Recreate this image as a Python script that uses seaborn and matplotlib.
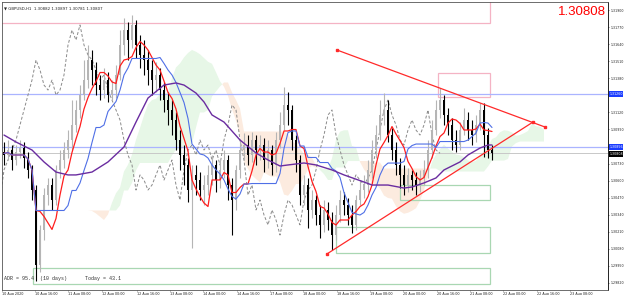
import numpy as np
import pandas as pd
import matplotlib
matplotlib.use("Agg")
import matplotlib.pyplot as plt
import matplotlib.transforms as mtransforms
from matplotlib.patches import Rectangle
import seaborn as sns

# ---------------- data (GBPUSD H1) ----------------
first_open = 1.30818
closes = [1.30795, 1.30833, 1.30757, 1.30818, 1.30848, 1.30772, 1.30681, 1.30528, 1.29957, 1.30223,
          1.30490, 1.30566, 1.30452, 1.30681, 1.30757, 1.30833, 1.30909, 1.31024, 1.31138, 1.31252,
          1.31366, 1.31519, 1.31443, 1.31328, 1.31290, 1.31366, 1.31252, 1.31290, 1.31405, 1.31633,
          1.31747, 1.31671, 1.31786, 1.31633, 1.31557, 1.31519, 1.31443, 1.31366, 1.31405, 1.31290,
          1.31214, 1.31138, 1.31062, 1.30909, 1.30795, 1.30719, 1.30528, 1.30643, 1.30604, 1.30528,
          1.30566, 1.30643, 1.30719, 1.30604, 1.30681, 1.30757, 1.30566, 1.30452, 1.30681, 1.30833,
          1.30871, 1.30795, 1.30909, 1.30833, 1.30871, 1.30757, 1.30833, 1.30719, 1.30909, 1.31024,
          1.31176, 1.31138, 1.30909, 1.30757, 1.30490, 1.30566, 1.30376, 1.30452, 1.30338, 1.30262,
          1.30376, 1.30300, 1.30185, 1.30338, 1.30452, 1.30414, 1.30338, 1.30262, 1.30452, 1.30528,
          1.30566, 1.30681, 1.30833, 1.30947, 1.31100, 1.31138, 1.30947, 1.30833, 1.30719, 1.30643,
          1.30566, 1.30643, 1.30604, 1.30566, 1.30620, 1.30681, 1.30833, 1.30985, 1.31138, 1.31214,
          1.31100, 1.31024, 1.30909, 1.30871, 1.30985, 1.31062, 1.30985, 1.30947, 1.31024, 1.31138,
          1.30947, 1.30833, 1.30808]
highs = [1.30894, 1.30909, 1.30871, 1.30871, 1.30909, 1.30894, 1.30818, 1.30719, 1.30566, 1.30262,
         1.30543, 1.30620, 1.30620, 1.30719, 1.30833, 1.30894, 1.30985, 1.31214, 1.31214, 1.31328,
         1.31519, 1.31633, 1.31595, 1.31504, 1.31405, 1.31458, 1.31427, 1.31366, 1.31481, 1.31747,
         1.31839, 1.31808, 1.31862, 1.31824, 1.31709, 1.31671, 1.31595, 1.31519, 1.31504, 1.31458,
         1.31351, 1.31275, 1.31214, 1.31123, 1.30985, 1.30871, 1.30772, 1.30719, 1.30719, 1.30665,
         1.30643, 1.30719, 1.30795, 1.30757, 1.30757, 1.30833, 1.30795, 1.30620, 1.30719, 1.30909,
         1.30963, 1.30947, 1.30970, 1.30947, 1.30947, 1.30924, 1.30909, 1.30871, 1.30970, 1.31123,
         1.31313, 1.31275, 1.31176, 1.30947, 1.30795, 1.30643, 1.30620, 1.30528, 1.30490, 1.30414,
         1.30452, 1.30437, 1.30361, 1.30414, 1.30528, 1.30513, 1.30467, 1.30414, 1.30490, 1.30604,
         1.30643, 1.30757, 1.30909, 1.31024, 1.31214, 1.31267, 1.31214, 1.31001, 1.30894, 1.30772,
         1.30719, 1.30696, 1.30681, 1.30665, 1.30681, 1.30757, 1.30909, 1.31062, 1.31214, 1.31305,
         1.31252, 1.31153, 1.31077, 1.30985, 1.31046, 1.31153, 1.31123, 1.31062, 1.31100, 1.31191,
         1.31191, 1.31001, 1.30871]
lows = [1.30719, 1.30757, 1.30681, 1.30719, 1.30772, 1.30696, 1.30620, 1.30452, 1.29835, 1.29903,
        1.30147, 1.30414, 1.30376, 1.30414, 1.30620, 1.30696, 1.30772, 1.30833, 1.30970, 1.31077,
        1.31214, 1.31305, 1.31328, 1.31252, 1.31214, 1.31229, 1.31199, 1.31214, 1.31229, 1.31366,
        1.31557, 1.31519, 1.31610, 1.31534, 1.31458, 1.31405, 1.31328, 1.31252, 1.31275, 1.31214,
        1.31123, 1.31024, 1.30947, 1.30833, 1.30681, 1.30566, 1.30437, 1.30086, 1.30490, 1.30452,
        1.30414, 1.30490, 1.30566, 1.30513, 1.30543, 1.30620, 1.30452, 1.30185, 1.30376, 1.30620,
        1.30757, 1.30719, 1.30742, 1.30719, 1.30757, 1.30665, 1.30696, 1.30643, 1.30665, 1.30848,
        1.30985, 1.31024, 1.30833, 1.30665, 1.30414, 1.30414, 1.30239, 1.30315, 1.30262, 1.30162,
        1.30208, 1.30223, 1.30071, 1.30147, 1.30284, 1.30338, 1.30262, 1.30200, 1.30223, 1.30414,
        1.30467, 1.30513, 1.30620, 1.30772, 1.30909, 1.31024, 1.30894, 1.30757, 1.30643, 1.30543,
        1.30490, 1.30513, 1.30528, 1.30490, 1.30513, 1.30566, 1.30620, 1.30772, 1.30947, 1.31077,
        1.31024, 1.30947, 1.30833, 1.30818, 1.30833, 1.30947, 1.30909, 1.30871, 1.30894, 1.30985,
        1.30780, 1.30772, 1.30757]

# long moving average (purple), read as (bar, price) points
ma_bars = [0, 3, 7, 10, 13, 16, 18, 22, 26, 30, 33, 36, 40, 43, 45, 48, 50, 52, 55, 59, 63, 66, 69,
           71, 75, 78, 82, 85, 90, 92, 96, 100, 102, 105, 108, 110, 114, 116, 119, 121, 122]
ma_vals = [1.30947, 1.30894, 1.30833, 1.30742, 1.30665, 1.30643, 1.30643, 1.30665, 1.30742, 1.30856,
           1.31046, 1.31229, 1.31328, 1.31344, 1.31328, 1.31267, 1.31199, 1.31100, 1.31046, 1.30909,
           1.30810, 1.30757, 1.30711, 1.30719, 1.30734, 1.30719, 1.30681, 1.30643, 1.30589, 1.30566,
           1.30566, 1.30543, 1.30551, 1.30582, 1.30620, 1.30681, 1.30742, 1.30795, 1.30848, 1.30871,
           1.30871]

# horizontal levels
level_blue = [1.31260, 1.30856]
bid_price = 1.30808

# drawings: trend lines and zones (bar, price)
trend_upper = [(83.25, 1.31595), (135.25, 1.31008)]
trend_lower = [(80.75, 1.30041), (132.25, 1.31046)]
zones_pink = [(-5, 121.5, 1.31801, 1.32100), (108.5, 121.5, 1.31237, 1.31420)]
zones_green = [(99.0, 121.5, 1.30452, 1.30566), (83.0, 121.5, 1.30048, 1.30246),
               (7.25, 121.5, 1.29812, 1.29934)]

yticks = [1.31900, 1.31770, 1.31640, 1.31510, 1.31380, 1.31250, 1.31120, 1.30990, 1.30860,
          1.30730, 1.30600, 1.30470, 1.30340, 1.30210, 1.30080, 1.29950, 1.29820]
hidden_yticks = [1.31250, 1.30860]   # covered by the price boxes
xtick_bars = [-0.5, 7.75, 16.0, 24.5, 33.25, 41.5, 49.75, 58.25, 66.5, 74.75, 83.25, 91.5,
              99.75, 108.25, 116.5, 124.75, 133.25, 141.5]
xtick_labels = ["10 Aug 2020", "10 Aug 16:00", "11 Aug 08:00", "12 Aug 00:00", "12 Aug 16:00",
                "13 Aug 08:00", "14 Aug 00:00", "14 Aug 16:00", "17 Aug 08:00", "18 Aug 00:00",
                "18 Aug 16:00", "19 Aug 08:00", "20 Aug 00:00", "20 Aug 16:00", "21 Aug 08:00",
                "22 Aug 00:00", "22 Aug 16:00", "23 Aug 08:00"]

# ---------------- build frame ----------------
n = len(closes)
bars = np.arange(n)
opens = [first_open] + closes[:-1]
df = pd.DataFrame({"bar": bars, "open": opens, "high": highs, "low": lows, "close": closes})

tenkan = (df["high"].rolling(5, min_periods=1).max() + df["low"].rolling(5, min_periods=1).min()) / 2
kijun = (df["high"].rolling(13, min_periods=1).max() + df["low"].rolling(13, min_periods=1).min()) / 2
span_a = (tenkan + kijun) / 2
span_b = (df["high"].rolling(26, min_periods=1).max() + df["low"].rolling(26, min_periods=1).min()) / 2
shift = 13

sns.set_theme(style="white")
plt.rcParams["font.family"] = ["DejaVu Sans"]

fig = plt.figure(figsize=(6.25, 2.95), dpi=100)
ax = fig.add_axes([2 / 625, 5 / 295, 606 / 625, 288 / 295])
ax.set_xlim(-0.5, 151.0)
ax.set_ylim(1.29766, 1.31961)

# cloud
xc = df["bar"].to_numpy() + shift
a = span_a.to_numpy()
b = span_b.to_numpy()
ax.fill_between(xc, a, b, where=a >= b, interpolate=True, color="#e7f7e7", lw=0, zorder=0)
ax.fill_between(xc, a, b, where=a < b, interpolate=True, color="#fcebdf", lw=0, zorder=0)

# zones
for x0, x1, y0, y1 in zones_pink:
    ax.add_patch(Rectangle((x0, y0), x1 - x0, y1 - y0, fill=False, ec="#f4b3c4", lw=0.9, zorder=1))
for x0, x1, y0, y1 in zones_green:
    ax.add_patch(Rectangle((x0, y0), x1 - x0, y1 - y0, fill=False, ec="#a9d7b2", lw=0.9, zorder=1))

# horizontal levels
for lv in level_blue:
    ax.axhline(lv, color="#aab4ff", lw=0.9, zorder=1)
ax.axhline(bid_price, color="#c8c8c8", lw=0.7, zorder=1)

# chikou span (dashed)
sns.lineplot(x=df["bar"] - shift, y=df["close"], ax=ax, color="#8a8a8a", lw=0.7,
             linestyle=(0, (3, 2)), zorder=2)

# candles
up = df["close"] >= df["open"]
for mask, col in [(up, "#b5b5b5"), (~up, "#000000")]:
    d = df[mask]
    ax.vlines(d["bar"], d["low"], d["high"], color=col, lw=0.8, zorder=3)
    body_lo = np.minimum(d["open"], d["close"])
    body_h = np.maximum(np.abs(d["close"] - d["open"]), 0.00003)
    ax.bar(d["bar"], body_h, bottom=body_lo, width=0.55, color=col, lw=0, zorder=3)

# lines
sns.lineplot(x=df["bar"], y=tenkan, ax=ax, color="#ff1e1e", lw=0.9, zorder=4)
sns.lineplot(x=df["bar"], y=kijun, ax=ax, color="#4f6fe6", lw=0.8, zorder=4)
sns.lineplot(x=ma_bars, y=ma_vals, ax=ax, color="#6a2ca0", lw=1.0, zorder=4)

# trend lines
for tl in (trend_upper, trend_lower):
    xs = [p[0] for p in tl]
    ys = [p[1] for p in tl]
    ax.plot(xs, ys, color="#ff2a2a", lw=0.9, zorder=5)
    ax.plot(xs, ys, ls="none", marker="s", ms=1.6, color="#ff2a2a", zorder=5)

# axes styling
ax.set_xlabel("")
ax.set_ylabel("")
ax.yaxis.tick_right()
ax.set_yticks(yticks)
ax.set_yticklabels(["" if v in hidden_yticks else f"{v:.5f}" for v in yticks],
                   fontsize=2.3, color="#222222")
ax.tick_params(axis="y", which="major", length=1.0, width=0.4, pad=0.6, right=True, left=False)
ax.set_xticks(xtick_bars)
ax.set_xticklabels(xtick_labels, fontsize=2.4, color="#222222", ha="left")
ax.tick_params(axis="x", which="major", length=1.0, width=0.4, pad=0.3, bottom=True)
for side, sp in ax.spines.items():
    sp.set_linewidth(0.6)
    sp.set_color("#555555")
ax.spines["right"].set_color("#000000")
ax.grid(False)

# right axis price boxes
trans = mtransforms.blended_transform_factory(ax.transAxes, ax.transData)
for lv in level_blue:
    ax.text(1.002, lv, f"{lv:.5f}", transform=trans, fontsize=2.3, color="white", va="center",
            ha="left", bbox=dict(boxstyle="square,pad=0.2", fc="#1a3cff", ec="none"), zorder=10,
            clip_on=False)
ax.text(1.002, bid_price - 0.00006, f"{bid_price:.5f}", transform=trans, fontsize=2.3, color="white",
        va="center", ha="left", bbox=dict(boxstyle="square,pad=0.2", fc="#000000", ec="none"),
        zorder=10, clip_on=False)

# texts
ax.text(0.004, 0.985, "\u25bc GBPUSD,H1  1.30882 1.30897 1.30781 1.30807", transform=ax.transAxes,
        fontsize=2.8, color="#222222", va="top", ha="left")
ax.text(0.996, 0.985, "1.30808", transform=ax.transAxes, fontsize=9.5, color="#ff0000",
        va="top", ha="right", family=["Liberation Sans", "DejaVu Sans"])
ax.text(0.003, 1.2985, "ADR = 95.4  (10 days)      Today = 43.1", fontsize=3.6, color="#333333",
        va="center", ha="left", family=["Liberation Mono", "DejaVu Sans Mono"],
        transform=mtransforms.blended_transform_factory(ax.transAxes, ax.transData))

fig.savefig("out.png", dpi=100)
